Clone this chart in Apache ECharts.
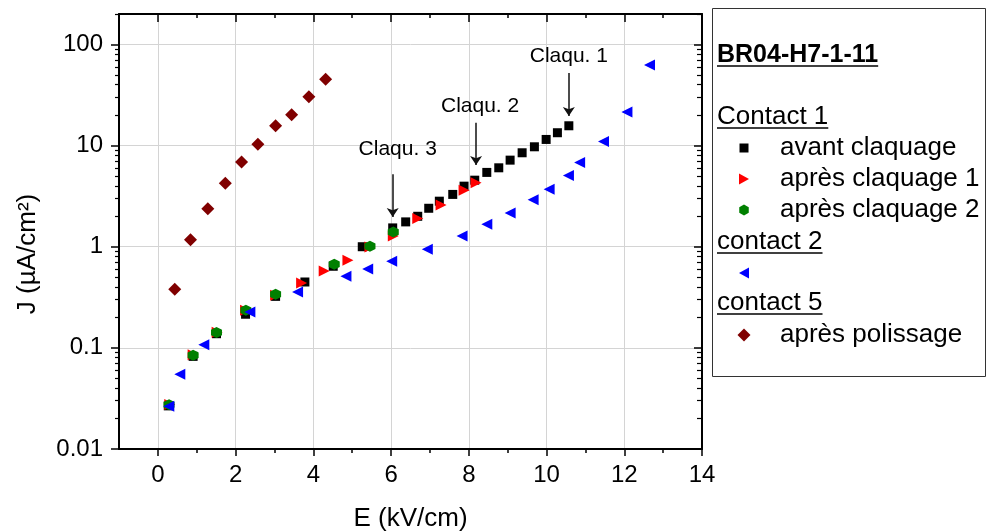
<!DOCTYPE html>
<html><head><meta charset="utf-8">
<script src="https://cdn.jsdelivr.net/npm/echarts@6/dist/echarts.min.js"></script>
<style>html,body{margin:0;padding:0;background:#fff}#c{width:987px;height:531px}</style>
</head><body><div id="c"></div>
<script>
// ---- data (E in kV/cm, J in µA/cm²) ----
const avantE = [0.268,0.907,1.509,2.256,3.029,3.783,4.512,5.259,6.042,6.376,6.686,6.969,7.242,7.587,7.878,8.153,8.463,8.771,9.063,9.372,9.688,9.99,10.28,10.574];
const avantJ = [0.0267,0.0824,0.138,0.215,0.323,0.448,0.641,1.0,1.535,1.76,2.0,2.40,2.82,3.29,3.97,4.55,5.43,6.03,7.18,8.49,9.73,11.5,13.4,15.7];
const apres1E = [0.306,0.907,1.525,2.256,3.029,3.698,4.280,4.891,5.457,6.057,6.686,7.286,7.878,8.187];
const apres1J = [0.0276,0.0857,0.143,0.235,0.331,0.438,0.576,0.735,0.996,1.28,1.90,2.58,3.62,4.28];
const apres2E = [0.288,0.907,1.509,2.264,3.029,4.538,5.457,6.057];
const apres2J = [0.0274,0.0843,0.142,0.235,0.339,0.671,1.01,1.40];
const contact2E = [0.281,0.564,1.182,2.367,3.595,4.839,5.398,6.016,6.933,7.826,8.463,9.063,9.655,10.067,10.564,10.852,11.465,12.068,12.65];
const contact2J = [0.0265,0.0547,0.1076,0.226,0.357,0.511,0.603,0.718,0.945,1.28,1.67,2.15,2.92,3.71,5.05,6.79,10.96,21.5,62.7];
const polisE = [0.435,0.84,1.285,1.735,2.153,2.573,3.029,3.441,3.886,4.316];
const polisJ = [0.379,1.17,2.38,4.25,6.9,10.3,15.7,20.2,30.4,45.2];

const annoText = ['Claqu. 1','Claqu. 2','Claqu. 3'];
const annoE    = [10.574, 8.187, 6.042];
const annoFrom = [52.2, 16.8, 5.22];
const annoTo   = [19.6, 6.41, 1.97];

const xMajorTicks = [0,2,4,6,8,10,12,14];
const xMinorTicks = [1,3,5,7,9,11,13];
const yMajorTicks = [0.01,0.1,1,10,100];
const yMinorMult = [2,3,4,5,6,7,8,9];
const yDecades = [0.01,0.1,1,10,100];
const xMin = -1, xMax = 14, yMin = 0.01, yMax = 200;

const legendTitle = 'BR04-H7-1-11';
const legendGroups = ['Contact 1','contact 2','contact 5'];
const legendNames = ['avant claquage','après claquage 1','après claquage 2','','après polissage'];
const xTitle = 'E (kV/cm)';
const yTitle = 'J (µA/cm²)';

// ---- helpers ----
const FONT = "'Liberation Sans', Arial, sans-serif";
const zip = (a, b) => a.map((v, i) => [v, b[i]]);
const yMinorLog = [];
yDecades.forEach(d => yMinorMult.forEach(m => { const v = d * m; if (v <= yMax) yMinorLog.push(Math.log10(v)); }));
const hexPath = 'path://M0,-1 L0.866,-0.5 L0.866,0.5 L0,1 L-0.866,0.5 L-0.866,-0.5 Z';

const measure = (() => { const c = document.createElement('canvas').getContext('2d');
  return (t, f) => { c.font = f; return c.measureText(t).width; }; })();

const gridRect = { left: 119, right: 285, top: 14, bottom: 82, containLabel: false, outerBoundsMode: 'none' };
const lineStyleAxis = { color: '#000', width: 2 };

function xAx(opts) {
  return Object.assign({ type: 'value', min: xMin, max: xMax, axisLine: { show: false, onZero: false },
    axisLabel: { show: false }, splitLine: { show: false } }, opts);
}
function yAx(opts) {
  return Object.assign({ axisLine: { show: false, onZero: false },
    axisLabel: { show: false }, splitLine: { show: false } }, opts);
}

const xAxes = [
  xAx({ gridIndex: 0, position: 'bottom', name: xTitle, nameLocation: 'middle', nameGap: 57,
    nameTextStyle: { fontSize: 26, fontFamily: FONT, color: '#000' },
    axisLine: { show: true, onZero: false, lineStyle: lineStyleAxis },
    axisTick: { show: true, inside: false, length: 7, customValues: xMajorTicks, lineStyle: { color: '#000', width: 1.5 } },
    axisLabel: { show: true, customValues: xMajorTicks, margin: 14, fontSize: 24, fontFamily: FONT, color: '#000' },
    splitLine: { show: true, lineStyle: { color: '#d4d4d4', width: 1 } } }),
  xAx({ gridIndex: 0, position: 'top',
    axisLine: { show: true, onZero: false, lineStyle: lineStyleAxis },
    axisTick: { show: true, inside: true, length: 8, customValues: xMajorTicks, lineStyle: { color: '#000', width: 1.5 } } }),
  xAx({ gridIndex: 1, position: 'bottom',
    axisTick: { show: true, inside: false, length: 4, customValues: xMinorTicks, lineStyle: { color: '#000', width: 1.5 } } }),
  xAx({ gridIndex: 1, position: 'top',
    axisTick: { show: true, inside: true, length: 4, customValues: xMinorTicks, lineStyle: { color: '#000', width: 1.5 } } })
];
const yAxes = [
  yAx({ gridIndex: 0, type: 'log', logBase: 10, min: yMin, max: yMax, position: 'left',
    axisLine: { show: true, onZero: false, lineStyle: lineStyleAxis },
    axisTick: { show: true, inside: false, length: 8, customValues: yMajorTicks, lineStyle: { color: '#000', width: 1.5 } },
    axisLabel: { show: true, customValues: yMajorTicks, margin: 16, fontSize: 24, fontFamily: FONT, color: '#000',
      formatter: v => String(+v.toPrecision(3)) },
    splitLine: { show: true, lineStyle: { color: '#d4d4d4', width: 1 } } }),
  yAx({ gridIndex: 0, type: 'log', logBase: 10, min: yMin, max: yMax, position: 'right',
    axisLine: { show: true, onZero: false, lineStyle: lineStyleAxis },
    axisTick: { show: true, inside: true, length: 8, customValues: yMajorTicks, lineStyle: { color: '#000', width: 1.5 } } }),
  yAx({ gridIndex: 1, type: 'value', min: Math.log10(yMin), max: Math.log10(yMax), position: 'left',
    axisTick: { show: true, inside: false, length: 4, customValues: yMinorLog, lineStyle: { color: '#000', width: 1.2 } } }),
  yAx({ gridIndex: 1, type: 'value', min: Math.log10(yMin), max: Math.log10(yMax), position: 'right',
    axisTick: { show: true, inside: true, length: 5, customValues: yMinorLog, lineStyle: { color: '#000', width: 1.2 } } })
];

function scatter(name, E, J, symbol, size, color, rotate, extra) {
  return Object.assign({ type: 'scatter', name, xAxisIndex: 0, yAxisIndex: 0, data: zip(E, J),
    symbol, symbolSize: size, symbolRotate: rotate || 0, itemStyle: { color, opacity: 1 },
    emphasis: { disabled: true }, animation: false }, extra || {});
}

const annoOffsetX = [0, 4, 5];
const series = [
  scatter('avant claquage', avantE, avantJ, 'rect', 9, '#000000', 0, {
    markLine: { silent: true, animation: false, symbol: ['none', 'arrow'], symbolSize: 9,
      lineStyle: { color: '#111', width: 1.5, type: 'solid' },
      label: { show: true, position: 'start', formatter: p => p.name, fontSize: 21, fontFamily: FONT, color: '#000', distance: 6 },
      emphasis: { disabled: true },
      data: annoText.map((t, i) => [
        { name: t, coord: [annoE[i], annoFrom[i]], label: { distance: i === 2 ? 14 : 6, offset: [annoOffsetX[i], 0] } },
        { coord: [annoE[i], annoTo[i]] }]) } }),
  scatter('après claquage 1', apres1E, apres1J, 'triangle', 11, '#ff0000', -90),
  scatter('après claquage 2', apres2E, apres2J, hexPath, 11, '#008000', 0),
  scatter('contact 2', contact2E, contact2J, 'triangle', 11, '#0000ff', 90),
  scatter('après polissage', polisE, polisJ, 'diamond', 13, '#800000', 0)
];

// ---- legend box (graphic) ----
const LF = '26px ' + FONT;
const LFB = 'bold 25px ' + FONT;
const g = [];
g.push({ type: 'rect', shape: { x: 712.5, y: 8.5, width: 273, height: 368 }, style: { fill: '#fff', stroke: '#333', lineWidth: 1 }, z: 10 });
function header(text, y, bold) {
  const f = bold ? LFB : LF;
  g.push({ type: 'text', x: 717, y, style: { text, font: f, fill: '#000', align: 'left', verticalAlign: 'middle' }, z: 11 });
  g.push({ type: 'line', shape: { x1: 717, y1: y + 11, x2: 717 + measure(text, f), y2: y + 11 }, style: { stroke: '#000', lineWidth: 1.6 }, z: 11 });
}
function item(label, y, kind) {
  const cx = 744, cy = y;
  let el;
  if (kind === 'square') el = { type: 'rect', shape: { x: cx - 4.5, y: cy - 4.5, width: 9, height: 9 }, style: { fill: '#000' } };
  if (kind === 'right') el = { type: 'polygon', shape: { points: [[cx - 5, cy - 5.5], [cx + 5, cy], [cx - 5, cy + 5.5]] }, style: { fill: '#ff0000' } };
  if (kind === 'left') el = { type: 'polygon', shape: { points: [[cx + 5, cy - 5.5], [cx - 5, cy], [cx + 5, cy + 5.5]] }, style: { fill: '#0000ff' } };
  if (kind === 'hex') el = { type: 'polygon', shape: { points: [0, 1, 2, 3, 4, 5].map(k => [cx + 5.5 * Math.sin(k * Math.PI / 3), cy - 5.5 * Math.cos(k * Math.PI / 3)]) }, style: { fill: '#008000' } };
  if (kind === 'diamond') el = { type: 'polygon', shape: { points: [[cx, cy - 6.5], [cx + 6.5, cy], [cx, cy + 6.5], [cx - 6.5, cy]] }, style: { fill: '#800000' } };
  el.z = 11; g.push(el);
  if (label) g.push({ type: 'text', x: 780, y, style: { text: label, font: LF, fill: '#000', align: 'left', verticalAlign: 'middle' }, z: 11 });
}
header(legendTitle, 55, true);
header(legendGroups[0], 117, false);
item(legendNames[0], 148, 'square');
item(legendNames[1], 179, 'right');
item(legendNames[2], 210, 'hex');
header(legendGroups[1], 242, false);
item(legendNames[3], 273, 'left');
header(legendGroups[2], 303, false);
item(legendNames[4], 335, 'diamond');
// y axis title
g.push({ type: 'text', x: 28, y: 254, rotation: Math.PI / 2, style: { text: yTitle, font: '26px ' + FONT, fill: '#000', align: 'center', verticalAlign: 'middle' } });

const chart = echarts.init(document.getElementById('c'), null, { renderer: 'canvas' });
chart.setOption({
  backgroundColor: '#fff',
  animation: false,
  grid: [Object.assign({}, gridRect), Object.assign({}, gridRect)],
  xAxis: xAxes,
  yAxis: yAxes,
  series,
  graphic: g
});
</script></body></html>
